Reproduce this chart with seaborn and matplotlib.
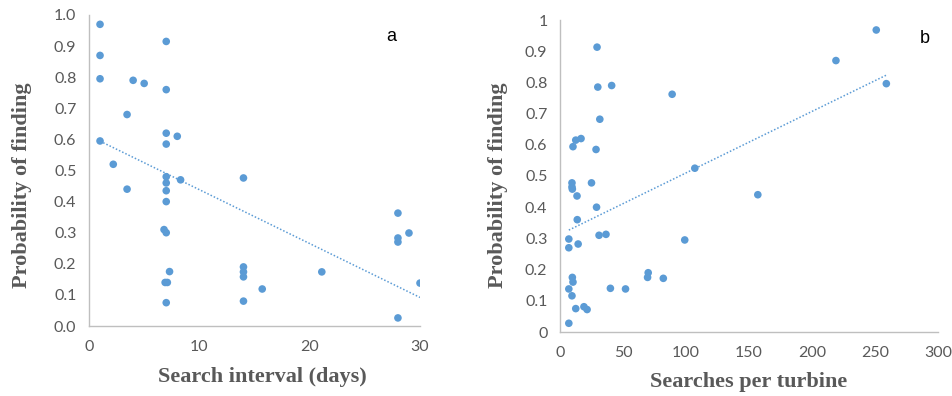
import matplotlib
matplotlib.use("Agg")
import matplotlib.pyplot as plt
import seaborn as sns
import numpy as np
import pandas as pd
from matplotlib.ticker import FuncFormatter, MultipleLocator

# Panel a: search interval (days) vs probability of finding
interval_days = [1, 1, 1, 1, 2.2, 3.45, 3.45, 4, 5,
                 7, 7, 7, 7, 7, 7, 7, 7, 6.8, 7, 6.9, 7.1, 7,
                 7.3, 8, 8.3,
                 14, 14, 14, 14, 14, 15.7, 21.1,
                 28, 28, 28, 28, 29, 30]
prob_a = [0.97, 0.87, 0.795, 0.595, 0.52, 0.68, 0.44, 0.79, 0.78,
          0.915, 0.76, 0.62, 0.585, 0.48, 0.46, 0.435, 0.40, 0.31, 0.30, 0.14, 0.14, 0.075,
          0.175, 0.61, 0.47,
          0.476, 0.19, 0.174, 0.158, 0.08, 0.119, 0.174,
          0.363, 0.283, 0.27, 0.026, 0.299, 0.138]

# Panel b: searches per turbine vs probability of finding
searches = [29.4, 30, 41, 89, 31.6, 10.3, 12.5, 16.7, 28.6, 107,
            25, 9.5, 9.5, 9.8, 13.5, 29, 13.7, 7, 7, 14.4,
            31, 36.5, 99, 9.8, 10.3, 7, 9.5, 12.5, 19, 21.5,
            7, 40, 52, 70, 69.5, 82, 157, 251, 219, 259]
prob_b = [0.913, 0.785, 0.79, 0.762, 0.682, 0.594, 0.615, 0.62, 0.585, 0.525,
          0.478, 0.478, 0.465, 0.458, 0.436, 0.40, 0.36, 0.298, 0.27, 0.282,
          0.31, 0.313, 0.295, 0.175, 0.16, 0.138, 0.116, 0.075, 0.081, 0.072,
          0.028, 0.14, 0.138, 0.19, 0.175, 0.172, 0.44, 0.968, 0.87, 0.796]

labels_text = {"xa": "Search interval (days)", "xb": "Searches per turbine",
               "y": "Probability of finding"}

sns.set_theme(style="white")
plt.rcParams["font.family"] = ["Lato", "DejaVu Sans"]

BLUE = "#5B9BD5"
GRAY_TXT = "#595959"
SPINE = "#BFBFBF"

fig = plt.figure(figsize=(9.53, 3.96), dpi=100)
ax_a = fig.add_axes([89/953, 70/396, 331/953, 311/396])
ax_b = fig.add_axes([560/953, 64/396, 378/953, 312/396])

df_a = pd.DataFrame({"x": interval_days, "y": prob_a})
df_b = pd.DataFrame({"x": searches, "y": prob_b})

for ax, df in [(ax_a, df_a), (ax_b, df_b)]:
    sns.regplot(data=df, x="x", y="y", ax=ax, scatter=False, ci=None, truncate=True,
                line_kws=dict(color=BLUE, lw=1.1, ls=(0, (1, 1.3))))
    sns.scatterplot(data=df, x="x", y="y", ax=ax, color=BLUE, s=30, edgecolor="none",
                    linewidth=0, zorder=3)
    for s in ["top", "right"]:
        ax.spines[s].set_visible(False)
    for s in ["left", "bottom"]:
        ax.spines[s].set_color(SPINE)
        ax.spines[s].set_linewidth(1.0)
    ax.set_ylim(0, 1)
    ax.yaxis.set_major_locator(MultipleLocator(0.1))
    ax.tick_params(labelsize=11.5, labelcolor=GRAY_TXT, color=SPINE)

# panel a
ax_a.set_xlim(0, 30)
ax_a.xaxis.set_major_locator(MultipleLocator(10))
ax_a.yaxis.set_major_formatter(FuncFormatter(lambda v, p: f"{v:.1f}"))
ax_a.tick_params(axis="both", which="major", length=5, width=1, direction="out", pad=4)
ax_a.tick_params(axis="x", pad=5)

# panel b
ax_b.set_xlim(0, 300)
ax_b.xaxis.set_major_locator(MultipleLocator(50))
def fmt_b(v, p):
    if abs(v) < 1e-9:
        return "0"
    if abs(v - 1) < 1e-9:
        return "1"
    return f"{v:.1f}"
ax_b.yaxis.set_major_formatter(FuncFormatter(fmt_b))
ax_b.tick_params(axis="both", which="major", length=0, pad=9)
ax_b.tick_params(axis="x", pad=10)

lab_font = dict(family=["Liberation Serif"], weight="bold", size=16, color=GRAY_TXT)
ax_a.set_xlabel(labels_text["xa"], **lab_font)
ax_b.set_xlabel(labels_text["xb"], **lab_font)
ax_a.set_ylabel(labels_text["y"], **lab_font)
ax_b.set_ylabel(labels_text["y"], **lab_font)
for ax in (ax_a, ax_b):
    ax.xaxis.label.set_va("center")
    ax.yaxis.label.set_va("center")
ax_a.xaxis.set_label_coords(0.523, -0.164)
ax_b.xaxis.set_label_coords(0.5, -0.160)
ax_a.yaxis.set_label_coords(-0.202, 0.453)
ax_b.yaxis.set_label_coords(-0.164, 0.471)

ax_a.text(0.912, 0.932, "a", transform=ax_a.transAxes, ha="center", va="center",
          fontsize=13, color="black", family=["Liberation Sans"])
ax_b.text(0.966, 0.942, "b", transform=ax_b.transAxes, ha="center", va="center",
          fontsize=13, color="black", family=["Liberation Sans"])

fig.savefig("out.png", dpi=100)
